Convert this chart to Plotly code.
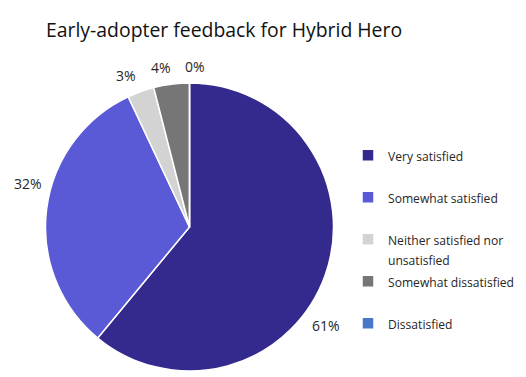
import math
import plotly.graph_objects as go

categories = ["Very satisfied", "Somewhat satisfied", "Neither satisfied nor<br>unsatisfied",
              "Somewhat dissatisfied", "Dissatisfied"]
values = [61, 32, 3, 4, 0]
colors = ["#34298C", "#5B5AD6", "#D3D3D3", "#767676", "#4A78C8"]

# styling for the outside percentage labels (angular nudge in degrees, like Excel's best-fit)
label_nudge = [16, 8, -3, -3, 2]

# page has an 8px body margin, so the figure is sized to the visible area
W, H = 518, 369
cx, cy, R = 181.5, 219.0, 144.0   # pie centre / radius in figure pixels

# pad labels to two lines so legend entries are evenly spaced
legend_labels = []
for c in categories:
    txt = c if "<br>" in c else c + "<br>\u00a0"
    parts = txt.split("<br>")
    legend_labels.append("<br>".join(f"<span style='font-size:12.1px'>{p}</span>" for p in parts))

fig = go.Figure(go.Pie(
    labels=legend_labels,
    values=values,
    sort=False,
    direction="clockwise",
    rotation=0,
    marker=dict(colors=colors, line=dict(color="white", width=1.5)),
    textinfo="none",
    domain=dict(x=[(cx - R) / W, (cx + R) / W], y=[1 - (cy + R) / H, 1 - (cy - R) / H]),
    showlegend=True,
))

# percentage labels positioned from the data (slice mid-angles)
total = sum(values)
start = 0.0
for v, nudge in zip(values, label_nudge):
    frac = v / total
    mid = start + frac * 360 / 2 + nudge
    start += frac * 360
    th = math.radians(mid)
    s, c = math.sin(th), -math.cos(th)
    ext = abs(s) * 14 + abs(c) * 8
    d = R + 8 + ext
    fig.add_annotation(
        x=(cx + d * s) / W, y=1 - (cy + d * c) / H, xref="paper", yref="paper",
        text=f"{round(frac * 100)}%", showarrow=False, xanchor="center", yanchor="middle",
        font=dict(family="Open Sans", size=14, color="#262626"),
    )

fig.update_layout(
    width=W, height=H,
    margin=dict(l=0, r=0, t=0, b=0),
    paper_bgcolor="white",
    title=dict(text="Early-adopter feedback for Hybrid Hero",
               font=dict(family="Open Sans", size=19.4, color="#111111"),
               x=38/W, xanchor="left", y=1-22/H, yanchor="middle"),
    legend=dict(x=340/W, y=1-131/H, xanchor="left", yanchor="top",
                valign="top", itemwidth=30,
                font=dict(family="Open Sans", size=15, color="#262626")),
)

fig.write_html("out.html")
